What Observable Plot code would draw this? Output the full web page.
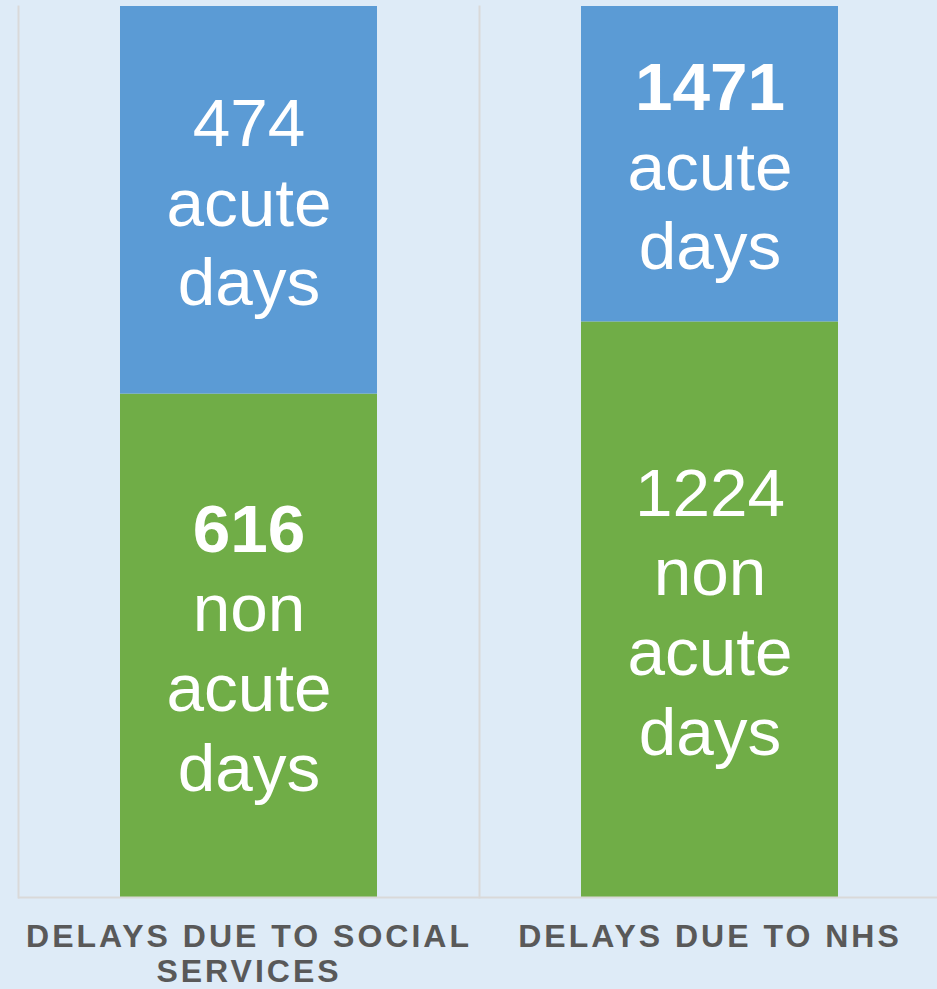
<!DOCTYPE html>
<html>
<head>
<meta charset="utf-8">
<script src="https://cdn.jsdelivr.net/npm/d3@7"></script>
<script src="https://cdn.jsdelivr.net/npm/@observablehq/plot@0.6"></script>
<style>
  html, body { margin: 0; padding: 0; background: #deebf7; overflow: hidden; }
  #chart svg { display: block; }
  g[aria-label="fx-axis tick label"] text { letter-spacing: 3px; }
</style>
</head>
<body>
<div id="chart"></div>
<script>
// Categories (x) and series values
const categories = ["DELAYS DUE TO SOCIAL SERVICES", "DELAYS DUE TO NHS"];
const acuteDays = [474, 1471];
const nonAcuteDays = [616, 1224];
// share of each bar's height (percent), as drawn in the picture
const acuteShare = [43.5, 35.4];
const nonAcuteShare = [56.5, 64.6];
// which number is written in bold
const acuteBold = [false, true];
const nonAcuteBold = [true, false];
const seriesNames = ["non acute days", "acute days"];
const seriesColors = ["#70ad47", "#5b9bd5"];

const rows = [];
categories.forEach((cat, i) => {
  rows.push({cat, series: seriesNames[0], value: nonAcuteShare[i],
    number: String(nonAcuteDays[i]), bold: nonAcuteBold[i],
    label: `${nonAcuteDays[i]}\nnon\nacute\ndays`});
  rows.push({cat, series: seriesNames[1], value: acuteShare[i],
    number: String(acuteDays[i]), bold: acuteBold[i],
    label: `${acuteDays[i]}\nacute\ndays`});
});
const boldNumbers = new Set(rows.filter(d => d.bold).map(d => d.number));

const chart = Plot.plot({
  width: 937,
  height: 989,
  marginTop: 6,
  marginBottom: 92,
  marginLeft: 18,
  marginRight: -3,
  style: {background: "#deebf7", fontFamily: "Liberation Sans, Arial, sans-serif", overflow: "hidden"},
  fx: {domain: categories, padding: 0, axis: null, label: null},
  y: {domain: [0, 100], axis: null},
  color: {domain: seriesNames, range: seriesColors},
  marks: [
    Plot.frame({anchor: "left", stroke: "#d9d9d9", strokeWidth: 2}),
    Plot.barY(rows, {fx: "cat", y: "value", fill: "series", insetLeft: 102, insetRight: 102}),
    Plot.ruleY([0], {stroke: "#d9d9d9", strokeWidth: 2}),
    Plot.text(rows, Plot.stackY({
      fx: "cat", y: "value", z: "series", text: "label",
      fill: "white", fontSize: 67.5, lineHeight: 1.18,
      fontFamily: "Liberation Sans, Arial, sans-serif"
    })),
    Plot.axisFx({
      anchor: "bottom", label: null, tickSize: 0, tickPadding: 25,
      lineWidth: 13, lineHeight: 1.08, fontSize: 32, fontWeight: "bold",
      color: "#595959", fontFamily: "Liberation Sans, Arial, sans-serif"
    })
  ]
});

d3.select(chart).selectAll("tspan").each(function() {
  if (boldNumbers.has(this.textContent)) d3.select(this).attr("font-weight", "bold");
});

document.getElementById("chart").appendChild(chart);
</script>
</body>
</html>
